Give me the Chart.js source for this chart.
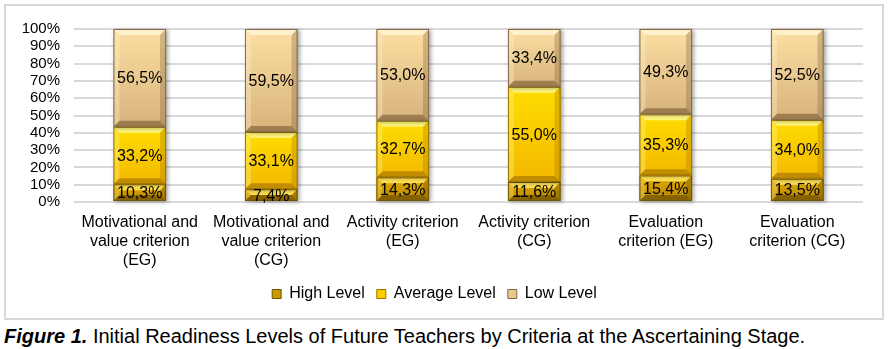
<!DOCTYPE html>
<html>
<head>
<meta charset="utf-8">
<script src="https://cdn.jsdelivr.net/npm/chart.js@4/dist/chart.umd.min.js"></script>
<style>
  html, body { margin: 0; padding: 0; background: #fff; }
  body { width: 888px; height: 349px; position: relative; overflow: hidden; font-family: "Liberation Sans", Arial, sans-serif; }
  #frame { position: absolute; left: 4px; top: 4px; width: 876px; height: 312px; border: 2px solid #d9d9d9; background: #fff; }
  #frame canvas { display: block; }
  #caption { position: absolute; left: 4px; top: 325px; font-size: 20px; color: #000; white-space: nowrap; }
  #caption b { font-style: italic; }
</style>
</head>
<body>
<div id="frame"><canvas id="chart"></canvas></div>
<div id="caption"><b>Figure 1.</b> Initial Readiness Levels of Future Teachers by Criteria at the Ascertaining Stage.</div>
<script>
// Criteria (experimental and control groups)
const categories = [
  ["Motivational and", "value criterion", "(EG)"],
  ["Motivational and", "value criterion", "(CG)"],
  ["Activity criterion", "(EG)"],
  ["Activity criterion", "(CG)"],
  ["Evaluation", "criterion (EG)"],
  ["Evaluation", "criterion (CG)"]
];
const seriesNames = ["High Level", "Average Level", "Low Level"];
// Share of students at each level, %
const highLevel    = [10.3, 7.4, 14.3, 11.6, 15.4, 13.5];
const averageLevel = [33.2, 33.1, 32.7, 55.0, 35.3, 34.0];
const lowLevel     = [56.5, 59.5, 53.0, 33.4, 49.3, 52.5];
const yTicks = [0, 10, 20, 30, 40, 50, 60, 70, 80, 90, 100];

const FONT = "'Liberation Sans', Arial, sans-serif";

// Bevelled fills for the three levels
const palettes = [
  { top: "#e2aa00", bottom: "#b88900", light: "rgba(255,226,90,0.9)", dark: "rgba(90,62,0,0.55)", sideL: "rgba(255,230,120,0.35)", sideR: "rgba(90,62,0,0.3)", border: "#6e5400", flat: "#c89800" },
  { top: "#ffdd00", bottom: "#f3b800", light: "rgba(255,244,130,0.95)", dark: "rgba(160,110,0,0.6)", sideL: "rgba(255,245,150,0.35)", sideR: "rgba(160,110,0,0.3)", border: "#9a7400", flat: "#ffcc00" },
  { top: "#fcdfa2", bottom: "#d7b37c", light: "rgba(255,241,205,0.95)", dark: "rgba(120,90,50,0.6)", sideL: "rgba(255,240,205,0.35)", sideR: "rgba(120,90,50,0.3)", border: "#86694a", flat: "#e8c68e" }
];

const fmt = v => v.toFixed(1).replace(".", ",") + "%";

function bevelBar(ctx, l, t, r, b, pal) {
  const w = r - l, h = b - t;
  if (h <= 0) return;
  const bv = Math.max(1, Math.min(6, h / 2, w / 2));
  ctx.save();
  // soft drop shadow
  ctx.shadowColor = "rgba(0,0,0,0.35)";
  ctx.shadowBlur = 4;
  ctx.shadowOffsetX = 2;
  ctx.shadowOffsetY = 1;
  const g = ctx.createLinearGradient(0, t, 0, b);
  g.addColorStop(0, pal.top);
  g.addColorStop(1, pal.bottom);
  ctx.fillStyle = g;
  ctx.fillRect(l, t, w, h);
  ctx.restore();

  ctx.save();
  const poly = (pts, fill) => {
    ctx.beginPath();
    ctx.moveTo(pts[0][0], pts[0][1]);
    for (let i = 1; i < pts.length; i++) ctx.lineTo(pts[i][0], pts[i][1]);
    ctx.closePath();
    ctx.fillStyle = fill;
    ctx.fill();
  };
  poly([[l, t], [r, t], [r - bv, t + bv], [l + bv, t + bv]], pal.light);
  poly([[l, b], [r, b], [r - bv, b - bv], [l + bv, b - bv]], pal.dark);
  poly([[l, t], [l + bv, t + bv], [l + bv, b - bv], [l, b]], pal.sideL);
  poly([[r, t], [r - bv, t + bv], [r - bv, b - bv], [r, b]], pal.sideR);
  ctx.strokeStyle = pal.border;
  ctx.lineWidth = 1;
  ctx.strokeRect(l + 0.5, t + 0.5, w - 1, h - 1);
  ctx.restore();
}

const bevelPlugin = {
  id: "bevelBars",
  afterDatasetsDraw(chart) {
    const ctx = chart.ctx;
    chart.data.datasets.forEach((ds, di) => {
      const meta = chart.getDatasetMeta(di);
      meta.data.forEach(bar => {
        const p = bar.getProps(["x", "y", "base", "width"], true);
        const l = p.x - p.width / 2, r = p.x + p.width / 2;
        const t = Math.min(p.y, p.base), b = Math.max(p.y, p.base);
        bevelBar(ctx, l, t, r, b, palettes[di]);
      });
    });
    // value labels
    ctx.save();
    ctx.font = "16px " + FONT;
    ctx.fillStyle = "#000";
    ctx.textAlign = "center";
    ctx.textBaseline = "middle";
    chart.data.datasets.forEach((ds, di) => {
      const meta = chart.getDatasetMeta(di);
      meta.data.forEach((bar, i) => {
        const p = bar.getProps(["x", "y", "base"], true);
        ctx.fillText(fmt(ds.data[i]), p.x, (p.y + p.base) / 2 + 1);
      });
    });
    ctx.restore();
  }
};

const seriesData = [highLevel, averageLevel, lowLevel];

new Chart(document.getElementById("chart"), {
  type: "bar",
  data: {
    labels: categories,
    datasets: seriesNames.map((name, i) => ({
      label: name,
      data: seriesData[i],
      backgroundColor: palettes[i].flat,
      borderColor: palettes[i].border,
      borderWidth: 1,
      categoryPercentage: 1.0,
      barPercentage: 0.4
    }))
  },
  options: {
    responsive: true,
    maintainAspectRatio: false,
    animation: false,
    devicePixelRatio: 1,
    layout: { padding: { left: 0, right: 19, top: 21, bottom: 6 } },
    plugins: {
      tooltip: { enabled: false },
      title: { display: false },
      legend: {
        position: "bottom",
        labels: {
          color: "#000",
          font: { family: FONT, size: 16 },
          boxWidth: 9,
          boxHeight: 9,
          padding: 12
        }
      }
    },
    scales: {
      x: {
        stacked: true,
        grid: { display: false, drawTicks: false },
        border: { display: false },
        ticks: {
          color: "#000",
          font: { family: FONT, size: 16, lineHeight: 1.2 },
          padding: 11,
          maxRotation: 0,
          autoSkip: false
        },
        afterFit(scale) { scale.height = 72; }
      },
      y: {
        stacked: true,
        min: 0,
        max: 100,
        afterBuildTicks(scale) { scale.ticks = yTicks.map(v => ({ value: v })); },
        grid: { color: "#d9d9d9", lineWidth: 2, drawTicks: false },
        border: { display: false },
        ticks: {
          color: "#000",
          font: { family: FONT, size: 15 },
          padding: 14,
          autoSkip: false,
          callback: v => v + "%"
        },
        afterFit(scale) { scale.width = 68; }
      }
    }
  },
  plugins: [bevelPlugin]
});
</script>
</body>
</html>
